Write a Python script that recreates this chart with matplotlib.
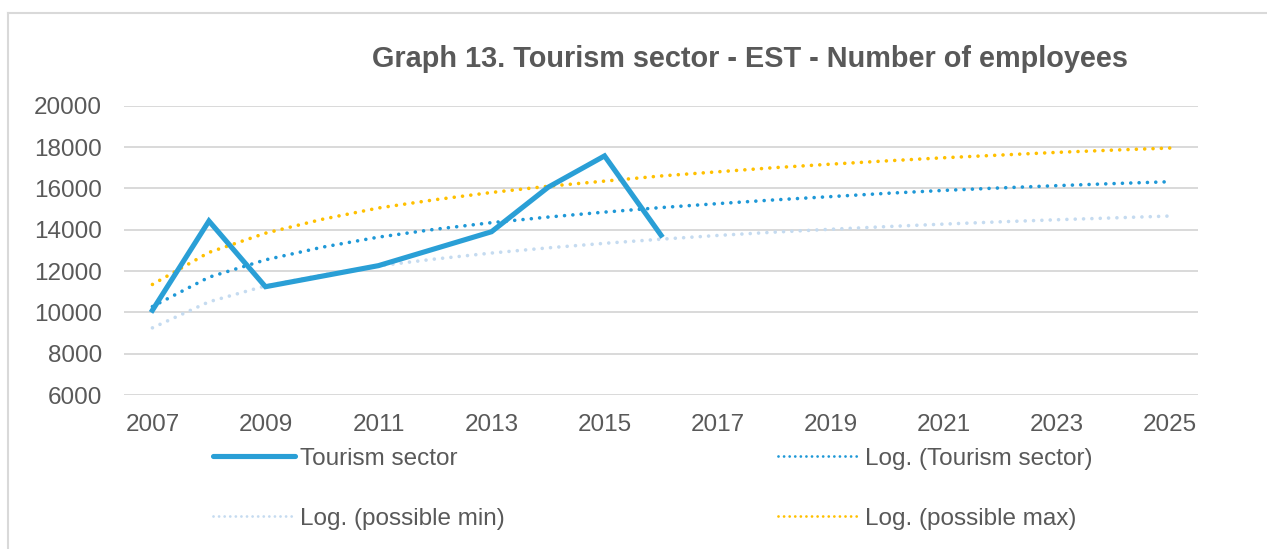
import matplotlib.pyplot as plt
from matplotlib.lines import Line2D

plt.rcParams['font.family'] = ['Liberation Sans', 'DejaVu Sans']

years = list(range(2007, 2026))
tourism_years = list(range(2007, 2017))
tourism = [10100, 14420, 11240, 11750, 12260, 13080, 13900, 16050, 17570, 13730]

# trend lines, one value per year 2007..2025
log_tourism = [10280, 11700, 12540, 13150, 13640, 14020, 14340, 14610, 14850, 15070,
               15260, 15440, 15600, 15760, 15900, 16020, 16130, 16230, 16320]
log_min = [9250, 10510, 11280, 11800, 12250, 12580, 12870, 13120, 13340, 13540,
           13720, 13880, 14020, 14150, 14270, 14380, 14480, 14570, 14660]
log_max = [11350, 12900, 13830, 14500, 15050, 15450, 15800, 16100, 16350, 16600,
           16800, 17000, 17170, 17330, 17480, 17610, 17740, 17850, 17950]

tick_years = list(range(2007, 2026, 2))
y_ticks = list(range(6000, 20001, 2000))

c_main = '#2A9FD6'
c_log = '#1E98D7'
c_min = '#C5DBF0'
c_max = '#FFC000'
grey = '#595959'

fig = plt.figure(figsize=(12.67, 5.49), dpi=100)
ax = fig.add_axes([0.098, 0.2805, 0.8475, 0.527])

dots = (0, (0.01, 2.3))
ax.plot(years, log_min, color=c_min, lw=2.6, ls=dots, dash_capstyle='round', zorder=2)
ax.plot(years, log_max, color=c_max, lw=2.6, ls=dots, dash_capstyle='round', zorder=2)
ax.plot(years, log_tourism, color=c_log, lw=2.6, ls=dots, dash_capstyle='round', zorder=3)
ax.plot(tourism_years, tourism, color=c_main, lw=3.7, solid_joinstyle='miter', zorder=4)

ax.set_xlim(2006.5, 2025.5)
ax.set_ylim(6000, 20000)
ax.set_xticks(tick_years)
ax.set_yticks(y_ticks)
ax.tick_params(length=0, labelsize=17.5, labelcolor=grey)
ax.tick_params(axis='y', pad=16)
ax.tick_params(axis='x', pad=14)
ax.grid(axis='y', color='#D9D9D9', lw=1.4)
ax.set_axisbelow(True)
for s in ax.spines.values():
    s.set_visible(False)

fig.text(0.5916, 0.893, 'Graph 13. Tourism sector - EST - Number of employees',
         ha='center', va='center', fontsize=20.8, fontweight='bold', color=grey)

def handle(color, lw, ls):
    return Line2D([], [], color=color, lw=lw, ls=ls, dash_capstyle='round',
                  solid_capstyle='round')

leg_kw = dict(frameon=False, fontsize=17.5, handlelength=3.4, handletextpad=0.2,
              labelspacing=1.55, labelcolor=grey, loc='upper left', borderaxespad=0,
              borderpad=0)
fig.legend([handle(c_main, 3.7, '-'), handle(c_min, 2.0, (0, (0.01, 2.0)))],
           ['Tourism sector', 'Log. (possible min)'],
           bbox_to_anchor=(0.168, 0.184), **leg_kw)
fig.legend([handle(c_log, 2.0, (0, (0.01, 2.0))), handle(c_max, 2.0, (0, (0.01, 2.0)))],
           ['Log. (Tourism sector)', 'Log. (possible max)'],
           bbox_to_anchor=(0.614, 0.184), **leg_kw)

# chart area border (left and top only visible)
fig.add_artist(Line2D([8 / 1267, 8 / 1267], [0, 1 - 13 / 549], color='#D9D9D9', lw=1.5,
                      transform=fig.transFigure))
fig.add_artist(Line2D([8 / 1267, 1], [1 - 13 / 549, 1 - 13 / 549], color='#D9D9D9', lw=1.5,
                      transform=fig.transFigure))

fig.savefig('out.png', dpi=100)
